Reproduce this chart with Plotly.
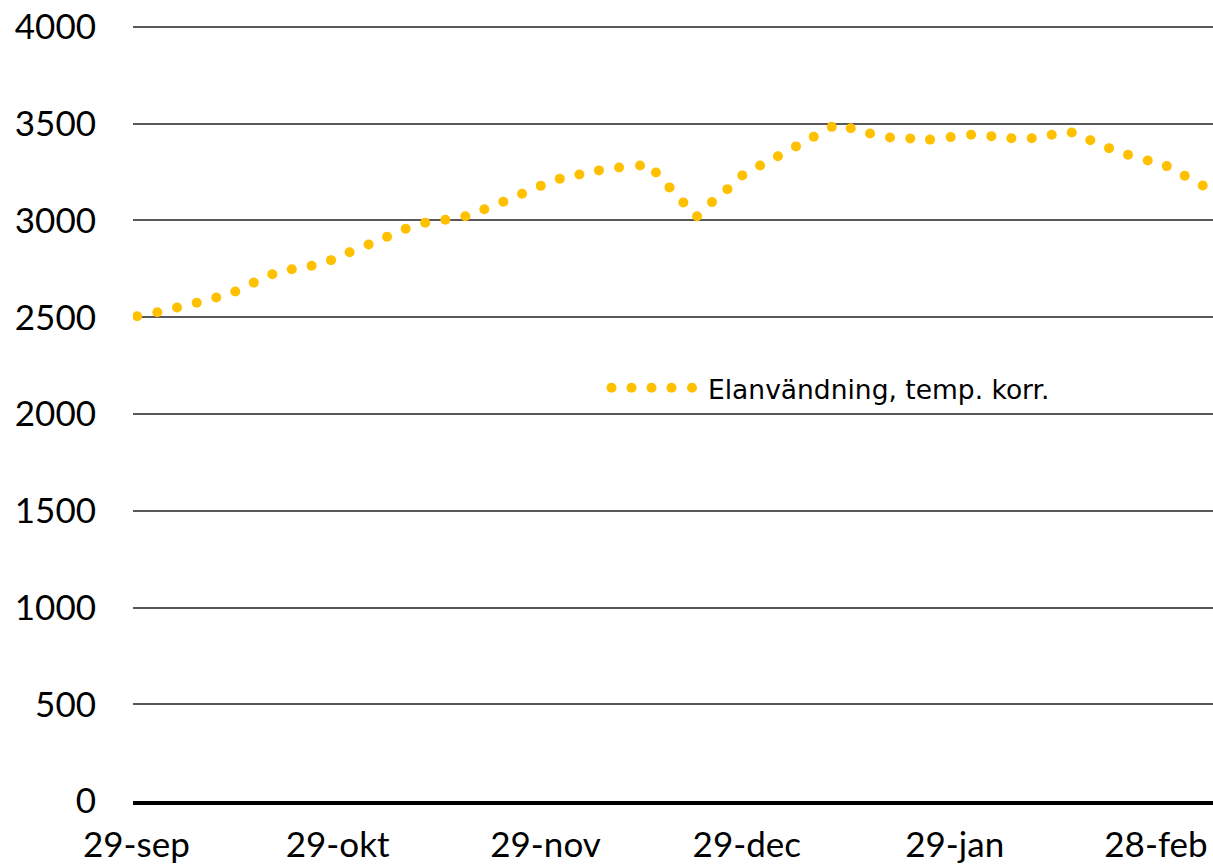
import plotly.graph_objects as go

# ---- data ----
dates = [
    "2018-09-29 03:00", "2018-10-02 03:00", "2018-10-05 01:30", "2018-10-08 00:00",
    "2018-10-10 22:00", "2018-10-13 18:00", "2018-10-16 12:00", "2018-10-19 06:30",
    "2018-10-22 04:00", "2018-10-25 03:00", "2018-10-28 00:30", "2018-10-30 19:00",
    "2018-11-02 15:00", "2018-11-05 09:00", "2018-11-08 03:30", "2018-11-11 01:30",
    "2018-11-14 01:30", "2018-11-17 01:00", "2018-11-19 21:00", "2018-11-22 17:00",
    "2018-11-25 12:00", "2018-11-28 07:00", "2018-12-01 03:00", "2018-12-04 01:00",
    "2018-12-06 23:00", "2018-12-09 23:00", "2018-12-13 02:00", "2018-12-15 11:00",
    "2018-12-17 11:30", "2018-12-19 13:00", "2018-12-21 14:00", "2018-12-23 19:30",
    "2018-12-26 02:30", "2018-12-28 08:00", "2018-12-30 23:30", "2019-01-02 15:30",
    "2019-01-05 08:00", "2019-01-07 23:30", "2019-01-10 16:00", "2019-01-13 12:00",
    "2019-01-16 09:00", "2019-01-19 08:30", "2019-01-22 09:00", "2019-01-25 07:30",
    "2019-01-28 09:30", "2019-01-31 10:30", "2019-02-03 11:00", "2019-02-06 10:30",
    "2019-02-09 11:30", "2019-02-12 11:00", "2019-02-15 10:30", "2019-02-18 05:00",
    "2019-02-21 00:00", "2019-02-23 20:00", "2019-02-26 18:30", "2019-03-01 14:30",
    "2019-03-04 06:45", "2019-03-06 23:15",
]
elanvandning = [
    2505, 2526, 2550, 2575, 2602, 2633, 2679, 2722, 2748, 2766, 2795, 2836,
    2876, 2916, 2957, 2988, 3004, 3022, 3058, 3097, 3138, 3179, 3216, 3238,
    3259, 3274, 3284, 3248, 3171, 3093, 3022, 3095, 3162, 3233, 3284, 3332,
    3383, 3433, 3484, 3477, 3450, 3429, 3424, 3418, 3431, 3443, 3436, 3425,
    3425, 3443, 3455, 3415, 3374, 3340, 3310, 3281, 3231, 3181,
]
series_name = "Elanvändning, temp. korr."
tick_dates = ["2018-09-29", "2018-10-29", "2018-11-29", "2018-12-29", "2019-01-29", "2019-02-28"]
tick_labels = ["29-sep", "29-okt", "29-nov", "29-dec", "29-jan", "28-feb"]
y_ticks = [0, 500, 1000, 1500, 2000, 2500, 3000, 3500, 4000]

# ---- styling / layout ----
W, H = 1213, 867
L, R, T, B = 133, 0, 25, 66
Y_TOP = 4010.3  # a hair above 4000 so the top gridline is drawn
GOLD = "#FFC000"
FONT = "Lato"

fig = go.Figure()
fig.add_trace(go.Scatter(
    x=dates, y=elanvandning, mode="markers", name=series_name,
    marker=dict(color=GOLD, size=10, line=dict(width=0)),
    showlegend=False, hoverinfo="skip",
))

# legend drawn by hand (five dots + label), in pixel terms of the plot area
pw, ph = W - L - R, H - T - B
def px_x(p):
    return (p - L) / pw
def px_y(p):
    return (H - B - p) / ph

shapes = []
for cx in [611.5, 631.5, 651.5, 671.5, 692.0]:
    cy = 387.7
    r = 5
    shapes.append(dict(type="circle", xref="paper", yref="paper",
                       x0=px_x(cx - r), x1=px_x(cx + r), y0=px_y(cy + r), y1=px_y(cy - r),
                       fillcolor=GOLD, line=dict(width=0)))

fig.update_layout(
    template="none",
    width=W, height=H,
    margin=dict(l=L, r=R, t=T, b=B, pad=0, autoexpand=False),
    paper_bgcolor="white", plot_bgcolor="white",
    font=dict(family=FONT, color="black"),
    showlegend=False,
    shapes=shapes,
    annotations=[dict(
        xref="paper", yref="paper", x=px_x(706), y=px_y(389),
        xanchor="left", yanchor="middle", showarrow=False,
        text=series_name, font=dict(family="DejaVu Sans", size=26.5, color="black"),
    )],
    xaxis=dict(
        type="date", automargin=False,
        range=["2018-09-28 12:00", "2019-03-08 12:00"],
        tickvals=tick_dates, ticktext=tick_labels,
        tickfont=dict(family=FONT, size=35, color="black"),
        showgrid=False, zeroline=False,
        showline=True, linecolor="black", linewidth=4,
        ticks="", ticklabelstandoff=10,
    ),
    yaxis=dict(
        automargin=False,
        range=[0, Y_TOP],
        tickvals=y_ticks,
        tickfont=dict(family=FONT, size=35, color="black"),
        showgrid=True, gridcolor="#595959", gridwidth=2,
        zeroline=False, showline=False, ticks="",
        ticklabelstandoff=36,
    ),
)

fig.write_html(
    "out.html",
    config={"displayModeBar": False, "staticPlot": True},
    post_script="document.body.style.margin='0px'; document.documentElement.style.overflow='hidden';",
)
